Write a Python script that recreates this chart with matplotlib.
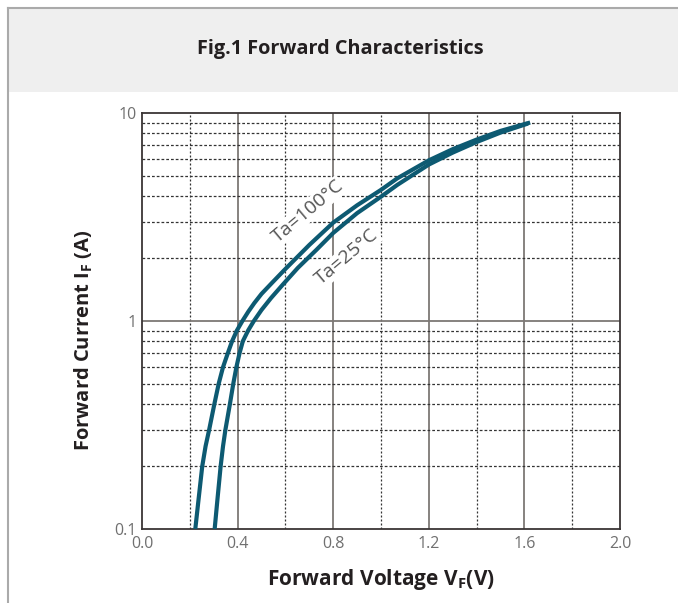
import matplotlib
matplotlib.use("Agg")
import matplotlib.pyplot as plt
from matplotlib.patches import Rectangle
from matplotlib.lines import Line2D

plt.rcParams["font.family"] = ["Open Sans", "DejaVu Sans"]
plt.rcParams["mathtext.fontset"] = "custom"
plt.rcParams["mathtext.bf"] = "Open Sans:bold"
plt.rcParams["mathtext.rm"] = "Open Sans"

# curve values (V, A)
vf_100 = [0.223, 0.237, 0.252, 0.266, 0.281, 0.303, 0.321, 0.339, 0.359, 0.377, 0.397, 0.420,
          0.445, 0.470, 0.500, 0.545, 0.596, 0.70, 0.80, 0.90, 1.00, 1.068, 1.20, 1.30, 1.40, 1.50, 1.624]
if_100 = [0.10, 0.14, 0.20, 0.25, 0.30, 0.40, 0.50, 0.60, 0.70, 0.80, 0.90, 1.00,
          1.11, 1.22, 1.35, 1.53, 1.76, 2.32, 2.97, 3.60, 4.27, 4.85, 5.92, 6.70, 7.45, 8.20, 9.00]

vf_25 = [0.304, 0.316, 0.329, 0.339, 0.349, 0.368, 0.382, 0.395, 0.408, 0.422, 0.444, 0.468,
         0.500, 0.540, 0.590, 0.652, 0.73, 0.80, 0.90, 1.00, 1.068, 1.20, 1.30, 1.40, 1.50, 1.615]
if_25 = [0.10, 0.14, 0.20, 0.25, 0.30, 0.40, 0.50, 0.60, 0.70, 0.80, 0.90, 1.00,
         1.13, 1.29, 1.50, 1.80, 2.20, 2.65, 3.30, 3.96, 4.51, 5.65, 6.45, 7.25, 8.05, 8.90]

x_ticks = [0.0, 0.4, 0.8, 1.2, 1.6, 2.0]
x_minor = [0.2, 0.6, 1.0, 1.4, 1.8]
y_ticks = [0.1, 1, 10]
y_labels = ["0.1", "1", "10"]
y_minor = [k * d for d in (0.1, 1) for k in range(2, 10)]

curve_color = "#0d5a72"
tick_color = "#707070"

fig = plt.figure(figsize=(6.78, 6.03), dpi=100)

# header band and frame lines
fig.patches.append(Rectangle((9 / 678, 1 - 92 / 603), 1, 83 / 603, transform=fig.transFigure,
                             facecolor="#efefef", edgecolor="none", zorder=0))
fig.lines.append(Line2D([8 / 678, 1], [1 - 8 / 603] * 2, transform=fig.transFigure, color="#aaaaaa", lw=1.5))
fig.lines.append(Line2D([8 / 678] * 2, [0, 1 - 8 / 603], transform=fig.transFigure, color="#aaaaaa", lw=1.5))
fig.text(0.502, 1 - 49 / 603, "Fig.1 Forward Characteristics", ha="center", va="center",
         fontsize=14.3, fontweight="bold", color="#231f20")

ax = fig.add_axes([142 / 678, 1 - 529 / 603, 478 / 678, 416 / 603])
ax.set_yscale("log")
ax.set_xlim(0, 2.0)
ax.set_ylim(0.1, 10)

# grid
for x in x_ticks[1:-1]:
    ax.axvline(x, color="#7d7875", lw=1.3, zorder=1)
for x in x_minor:
    ax.axvline(x, color="#333333", lw=0.9, ls=(0, (1.6, 1.6)), zorder=1)
ax.axhline(1, color="#7d7875", lw=1.3, zorder=1)
for y in y_minor:
    ax.axhline(y, color="#333333", lw=0.9, ls=(0, (2.2, 1.6)), zorder=1)

ax.plot(vf_100, if_100, color=curve_color, lw=3, solid_capstyle="butt", solid_joinstyle="round", zorder=3)
ax.plot(vf_25, if_25, color=curve_color, lw=3, solid_capstyle="butt", solid_joinstyle="round", zorder=3)

lab_kw = dict(fontsize=14, color="#555555", ha="center", va="center", rotation=40,
              rotation_mode="anchor", transform=ax.transAxes, zorder=2,
              bbox=dict(facecolor="white", edgecolor="none", pad=0.8))
ax.text(0.347, 0.764, "Ta=100°C", **lab_kw)
ax.text(0.429, 0.654, "Ta=25°C", **lab_kw)

for s in ax.spines.values():
    s.set_color("#3a3535")
    s.set_linewidth(1.3)

ax.set_xticks(x_ticks)
ax.set_xticklabels([f"{v:.1f}" for v in x_ticks])
ax.set_yticks(y_ticks)
ax.set_yticklabels(y_labels)
ax.minorticks_off()
ax.tick_params(length=0, labelsize=11.5, labelcolor=tick_color)
ax.tick_params(axis="x", pad=5)
ax.tick_params(axis="y", pad=4)

fig.text(381 / 678, 1 - 579 / 603, r"Forward Voltage V$_\mathbf{F}$(V)", ha="center", va="center",
         fontsize=15, fontweight="bold", color="#231f20")
fig.text(84 / 678, 1 - 340 / 603, r"Forward Current I$_\mathbf{F}$ (A)", ha="center", va="center",
         rotation=90, fontsize=14.5, fontweight="bold", color="#231f20")

fig.savefig("out.png", dpi=100)
